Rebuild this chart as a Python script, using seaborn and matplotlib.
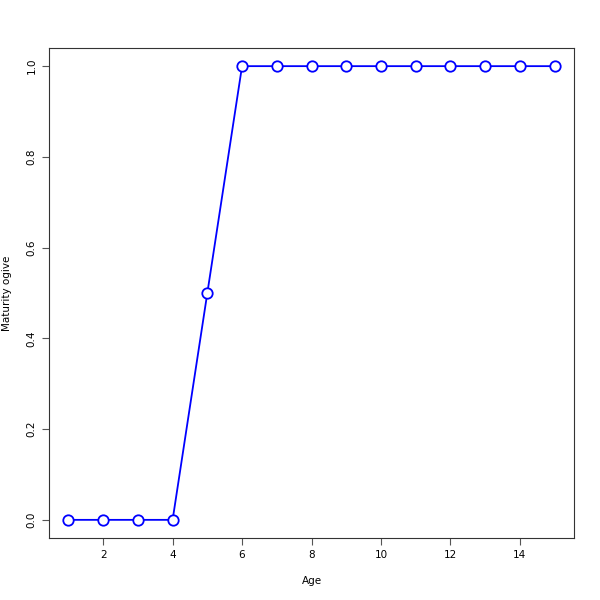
import matplotlib
matplotlib.use('Agg')
import matplotlib.pyplot as plt
import seaborn as sns
import pandas as pd

ages = [1, 2, 3, 4, 5, 6, 7, 8, 9, 10, 11, 12, 13, 14, 15]
maturity = [0, 0, 0, 0, 0.5, 1, 1, 1, 1, 1, 1, 1, 1, 1, 1]
x_ticks = [2, 4, 6, 8, 10, 12, 14]
y_ticks = [0.0, 0.2, 0.4, 0.6, 0.8, 1.0]

df = pd.DataFrame({'Age': ages, 'Maturity ogive': maturity})

sns.set_style('ticks')
plt.rcParams['font.family'] = ['DejaVu Sans']

fig = plt.figure(figsize=(6, 6), dpi=100)
ax = fig.add_axes([49/600, 62/600, 525/600, 490/600])

sns.lineplot(data=df, x='Age', y='Maturity ogive', ax=ax, color='blue', linewidth=1.3,
             marker='o', markersize=7.5, markerfacecolor='white', markeredgecolor='blue',
             markeredgewidth=1.3)

ax.set_xlim(0.44, 15.56)
ax.set_ylim(-0.04, 1.04)
ax.set_xticks(x_ticks)
ax.set_xticklabels([str(t) for t in x_ticks])
ax.set_yticks(y_ticks)
ax.set_yticklabels([f'{t:.1f}' for t in y_ticks], rotation=90, va='center')
ax.tick_params(labelsize=7.5, length=5, width=0.8, color='#555555', pad=4, labelcolor='black')
for s in ax.spines.values():
    s.set_visible(True)
    s.set_color('#333333')
    s.set_linewidth(0.8)
ax.set_xlabel('Age', fontsize=7.5, color='black')
ax.set_ylabel('Maturity ogive', fontsize=7.5, color='black', va='center')
ax.xaxis.set_label_coords(0.5, -0.078)
ax.yaxis.set_label_coords(-0.08, 0.5)

fig.savefig('out.png', dpi=100)
